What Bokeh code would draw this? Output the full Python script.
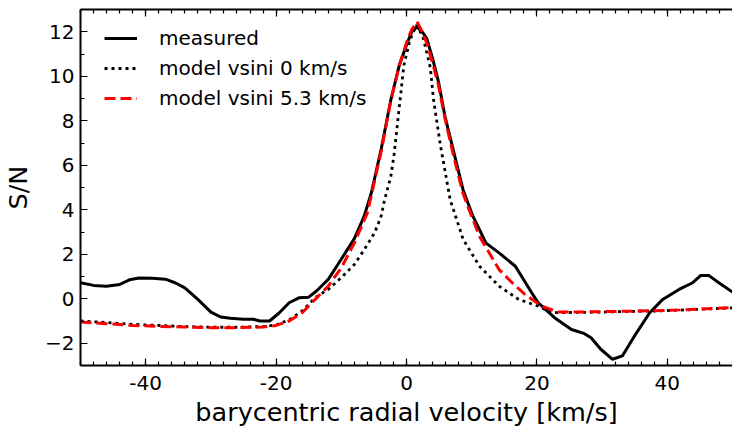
from bokeh.plotting import figure
from bokeh.models import LinearAxis, SingleIntervalTicker, Range1d, Legend, LegendItem, CustomJSTickFormatter
from bokeh.embed import file_html
from bokeh.resources import INLINE

# measured S/N
v_meas = [-50, -48, -46, -44, -42.5, -41, -39, -37, -35.5, -34, -32, -30, -28.5, -27, -25, -23.5,
          -22.5, -21, -19.5, -18, -16.5, -15, -13.8, -12, -10.5, -8, -6.5, -5.4, -3.9, -2.4, -1.1,
          0, 0.8, 1.6, 2.4, 3.1, 4.0, 4.9, 5.9, 7.16, 8.67, 10.2, 12.2, 14.2, 16.7, 19.2, 20.2,
          22.7, 25.3, 27.3, 28.3, 29.8, 31.6, 33.1, 35.3, 37.3, 39.3, 41.8, 43.9, 45.1, 46.4, 47.9, 50]
sn_meas = [0.72, 0.6, 0.56, 0.64, 0.85, 0.93, 0.92, 0.88, 0.72, 0.49, -0.03, -0.6, -0.82, -0.88, -0.92, -0.92,
           -1.0, -1.0, -0.63, -0.18, 0.04, 0.07, 0.35, 0.87, 1.55, 2.7, 3.7, 4.75, 6.7, 8.94, 10.5,
           11.4, 12.0, 12.22, 12.0, 11.7, 10.8, 9.76, 8.2, 6.7, 4.9, 3.7, 2.5, 2.06, 1.46, 0.27, -0.18,
           -0.85, -1.38, -1.57, -1.75, -2.27, -2.72, -2.57, -1.52, -0.63, -0.03, 0.42, 0.72, 1.04, 1.04, 0.72, 0.3]

# model vsini 0 km/s
v_m0 = [-50, -46, -42, -38, -34, -30, -26, -22, -20, -18, -16, -14, -12, -10, -8, -6.5, -4.9, -3.9,
        -3.4, -2.4, -1.9, -1.0, -0.4, 0.5, 1.5, 2.5, 3.65, 4.15, 5.2, 6.7, 8.7, 11.2, 14.2, 17.2,
        20.2, 22.2, 24, 30, 34, 38, 42, 46, 50]
sn_m0 = [-1.0, -1.07, -1.15, -1.2, -1.25, -1.28, -1.28, -1.25, -1.18, -0.95, -0.55, 0.05, 0.42, 0.95, 1.54,
         2.2, 2.96, 3.7, 4.4, 5.5, 6.5, 8.9, 10.5, 11.6, 12.3, 11.8, 10.4, 8.94, 6.9, 4.45, 2.66, 1.46,
         0.57, -0.03, -0.33, -0.63, -0.62, -0.6, -0.57, -0.55, -0.51, -0.46, -0.41]

# model vsini 5.3 km/s
v_m53 = [-50, -46, -42, -38, -34, -30, -26, -22, -20, -18, -16, -14, -12, -10, -8, -6, -3.9, -2.4,
         -1.1, 0, 0.8, 1.6, 2.4, 3.1, 4.0, 4.9, 5.9, 7.16, 8.6, 9.6, 11.2, 12.7, 14.2, 16.2, 18.2,
         20.7, 23.3, 26, 30, 34, 38, 42, 46, 50]
sn_m53 = [-1.05, -1.12, -1.2, -1.24, -1.27, -1.3, -1.3, -1.27, -1.2, -1.0, -0.63, -0.03, 0.57, 1.39, 2.5,
          3.86, 6.6, 8.9, 10.5, 11.5, 12.1, 12.45, 12.0, 11.5, 10.6, 9.6, 8.1, 6.5, 4.8, 4.0, 2.8, 2.06,
          1.31, 0.72, 0.19, -0.33, -0.6, -0.6, -0.58, -0.56, -0.54, -0.5, -0.45, -0.4]

labels = ["measured", "model vsini 0 km/s", "model vsini 5.3 km/s"]
x_tick_labels = {-40: "-40", -20: "-20", 0: "0", 20: "20", 40: "40"}
y_tick_labels = {-2: "\u22122"}

FONT = "DejaVu Sans"

p = figure(width=732, height=429, output_backend="svg", toolbar_location=None,
           x_range=Range1d(-50, 50), y_range=Range1d(-3, 13),
           min_border_left=0, min_border_right=0, min_border_top=9, min_border_bottom=0)
p.outline_line_color = None
p.xgrid.visible = False
p.ygrid.visible = False
p.background_fill_color = "white"
p.border_fill_color = "white"

p.xaxis.ticker = SingleIntervalTicker(interval=20, num_minor_ticks=10)
p.yaxis.ticker = SingleIntervalTicker(interval=2, num_minor_ticks=2)
p.xaxis.major_label_overrides = x_tick_labels
p.yaxis.major_label_overrides = y_tick_labels

for ax in (p.xaxis[0], p.yaxis[0]):
    ax.major_tick_in = 7
    ax.major_tick_out = 0
    ax.minor_tick_in = 4
    ax.minor_tick_out = 0
    ax.axis_line_width = 2
    ax.major_tick_line_width = 1.2
    ax.minor_tick_line_width = 1.2
    ax.major_label_text_font = FONT
    ax.major_label_text_font_size = "20px"
    ax.major_label_text_color = "black"
    ax.axis_label_text_font = FONT
    ax.axis_label_text_font_size = "25.5px"
    ax.axis_label_text_font_style = "normal"
    ax.axis_label_text_color = "black"

p.xaxis.axis_label = "barycentric radial velocity [km/s]"
p.yaxis.axis_label = "S/N"
p.xaxis.major_label_standoff = 10
p.xaxis.axis_label_standoff = 4
p.yaxis.major_label_standoff = 6
p.yaxis.axis_label_standoff = 9

top = LinearAxis(ticker=SingleIntervalTicker(interval=20, num_minor_ticks=10),
                 formatter=CustomJSTickFormatter(code="return ''"),
                 major_tick_in=7, major_tick_out=0, minor_tick_in=4, minor_tick_out=0,
                 axis_line_width=2, major_tick_line_width=1.2, minor_tick_line_width=1.2,
                 major_label_standoff=0)
p.add_layout(top, "above")

r_meas = p.line(v_meas, sn_meas, line_color="black", line_width=3)
r_m0 = p.line(v_m0, sn_m0, line_color="black", line_width=2.8, line_dash="3 4")
r_m53 = p.line(v_m53, sn_m53, line_color="red", line_width=3, line_dash="11 5")

legend = Legend(items=[LegendItem(label=labels[0], renderers=[r_meas]),
                       LegendItem(label=labels[1], renderers=[r_m0]),
                       LegendItem(label=labels[2], renderers=[r_m53])],
                location=(24, 255))
legend.border_line_color = None
legend.background_fill_alpha = 0
legend.label_text_font = FONT
legend.label_text_font_size = "20px"
legend.label_text_color = "black"
legend.glyph_width = 33
legend.glyph_height = 20
legend.label_standoff = 22
legend.spacing = 6
legend.margin = 0
legend.padding = 0
p.add_layout(legend)

open("out.html", "w").write(file_html(p, INLINE))
